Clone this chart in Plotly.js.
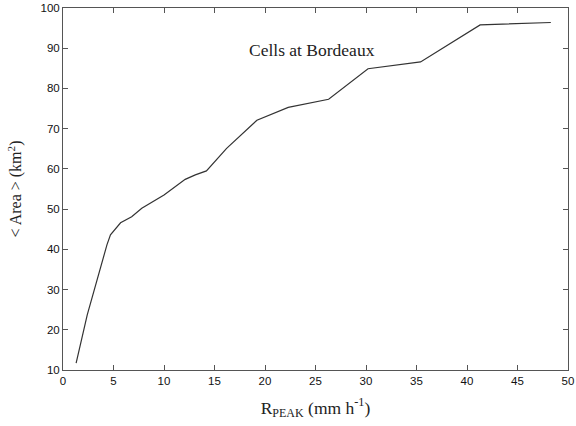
<!DOCTYPE html>
<html>
<head>
<meta charset="utf-8">
<script src="https://cdn.plot.ly/plotly-3.0.1.min.js"></script>
<style>
  html, body { margin: 0; padding: 0; background: #fff; }
  #chart { width: 576px; height: 426px; }
</style>
</head>
<body>
<div id="chart"></div>
<script>
// Peak rain rate (mm/h) and mean cell area (km^2)
const rPeak = [1.3, 2.4, 4.35, 4.7, 5.7, 6.8, 7.8, 9.0, 10.0, 12.1, 13.1, 14.2, 16.2, 19.2, 22.3, 26.3, 30.2, 35.4, 41.3, 48.3];
const meanArea = [11.7, 23.7, 41.1, 43.6, 46.6, 48.1, 50.2, 51.9, 53.5, 57.4, 58.5, 59.5, 65.1, 72.1, 75.3, 77.3, 84.9, 86.6, 95.8, 96.4];

const xTicks = [0, 5, 10, 15, 20, 25, 30, 35, 40, 45, 50];
const yTicks = [10, 20, 30, 40, 50, 60, 70, 80, 90, 100];

const axisCommon = {
  showgrid: false,
  zeroline: false,
  showline: true,
  linecolor: '#555',
  linewidth: 1,
  mirror: 'ticks',
  ticks: 'inside',
  ticklen: 5,
  tickwidth: 1,
  tickcolor: '#555',
  tickfont: { family: 'Liberation Sans, Arial, sans-serif', size: 11.5, color: '#111' }
};

const trace = {
  x: rPeak,
  y: meanArea,
  type: 'scatter',
  mode: 'lines',
  line: { color: '#333', width: 1.2 },
  hoverinfo: 'skip'
};

const layout = {
  width: 576,
  height: 426,
  margin: { l: 63, r: 8, t: 8, b: 56 },
  paper_bgcolor: '#fff',
  plot_bgcolor: '#fff',
  showlegend: false,
  xaxis: Object.assign({}, axisCommon, {
    range: [0, 50],
    tickvals: xTicks,
    ticktext: xTicks.map(String),
    title: {
      text: 'R<sub><span style="font-size:12px">PEAK</span></sub> (mm h<sup>-1</sup>)',
      font: { family: 'Liberation Serif, Times New Roman, serif', size: 17.5, color: '#222' },
      standoff: 15
    }
  }),
  yaxis: Object.assign({}, axisCommon, {
    range: [10, 100],
    tickvals: yTicks,
    ticktext: yTicks.map(String),
    title: {
      text: '&lt; Area &gt; (km<sup>2</sup>)',
      font: { family: 'Liberation Serif, Times New Roman, serif', size: 16, color: '#222' },
      standoff: 14
    }
  }),
  annotations: [{
    x: 24.7,
    y: 89.6,
    xref: 'x',
    yref: 'y',
    text: 'Cells at Bordeaux',
    showarrow: false,
    font: { family: 'Liberation Serif, Times New Roman, serif', size: 17.5, color: '#222' }
  }]
};

Plotly.newPlot('chart', [trace], layout, { displayModeBar: false, staticPlot: true });
</script>
</body>
</html>
